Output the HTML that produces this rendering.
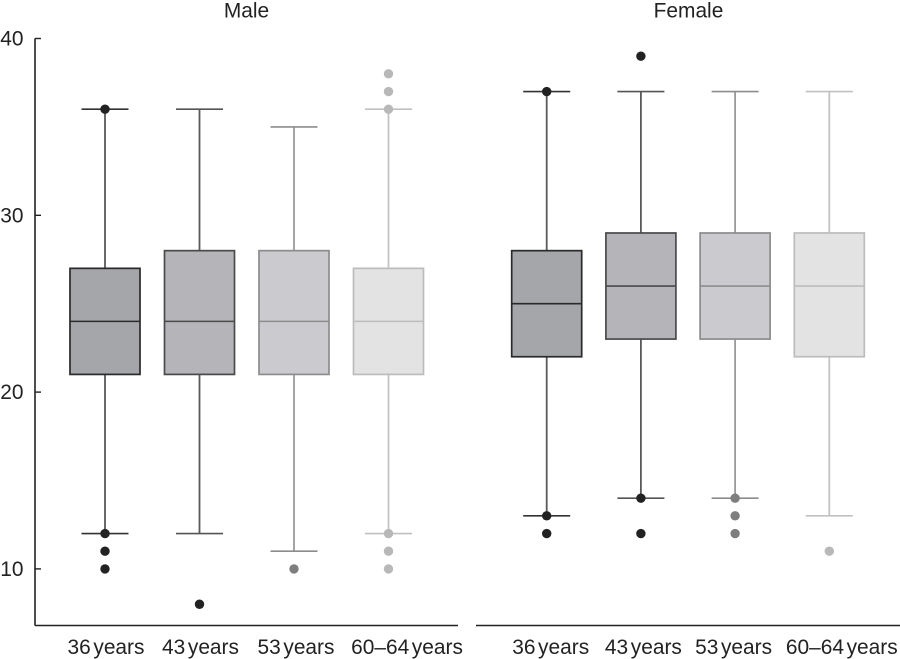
<!DOCTYPE html>
<html>
<head>
<meta charset="utf-8">
<style>
html,body{margin:0;padding:0;background:#fff;}
svg{display:block;}
text{font-family:"Liberation Sans",sans-serif;font-size:20.9px;fill:#222;}
</style>
</head>
<body>
<svg id="chart" width="900" height="659" viewBox="0 0 900 659" xmlns="http://www.w3.org/2000/svg"></svg>
<script>
const panels = ['Male', 'Female'];
const categories = ['36 years', '43 years', '53 years', '60–64 years'];
const yTicks = [10, 20, 30, 40];
// each row: [lower whisker, q1, median, q3, upper whisker]
const maleStats = [
  [12, 21, 24, 27, 36],
  [12, 21, 24, 28, 36],
  [11, 21, 24, 28, 35],
  [12, 21, 24, 27, 36]
];
const femaleStats = [
  [13, 22, 25, 28, 37],
  [14, 23, 26, 29, 37],
  [14, 23, 26, 29, 37],
  [13, 22, 26, 29, 37]
];
const maleOutliers = [
  [36, 12, 11, 10],
  [8],
  [10],
  [38, 37, 36, 12, 11, 10]
];
const femaleOutliers = [
  [37, 13, 12],
  [39, 14, 12],
  [14, 13, 12],
  [11]
];

const svg = document.getElementById('chart');
const NS = 'http://www.w3.org/2000/svg';
const y = v => 38.5 + (40 - v) * 17.68;
const panelX = [
  {axisStart: 35, axisEnd: 458, first: 105, step: 94.5, titleX: 246.5, labelShift: [1, 1, 2, 18.5]},
  {axisStart: 476, axisEnd: 900, first: 546.7, step: 94.2, titleX: 688.5, labelShift: [4, 2.5, -1.5, 12.5]}
];
const x = (p, i) => panelX[p].first + i * panelX[p].step;
const fills = ['#a4a6a9', '#b5b5b9', '#cbcbcf', '#e3e3e4'];
const edges = ['#2a2a2a', '#4a4a4a', '#8c8c8c', '#bcbcbc'];
const whisk = ['#5a5a5a', '#5a5a5a', '#9a9a9a', '#c4c4c4'];
const caps = ['#333333', '#555555', '#8c8c8c', '#c0c0c0'];
const dots = ['#222222', '#222222', '#7e7e7e', '#b8b8b8'];

function add(tag, attrs, name, text) {
  const el = document.createElementNS(NS, tag);
  for (const k in attrs) el.setAttribute(k, attrs[k]);
  
  
  if (text !== undefined) el.textContent = text;
  svg.appendChild(el);
  return el;
}
function line(x1, y1, x2, y2, stroke, w, name) {
  return add('line', {x1, y1, x2, y2, stroke, 'stroke-width': w}, name);
}

// y axis
line(35, y(40), 35, 625.5, '#222', 1.6, 'y-axis-line');
yTicks.forEach(t => {
  line(35, y(t), 41, y(t), '#222', 1.4, 'y-tick-' + t);
  add('text', {x: 23.5, y: y(t) + 7, 'text-anchor': 'end'}, 'y-tick-label-' + t, t);
});

// panels
[[maleStats, maleOutliers], [femaleStats, femaleOutliers]].forEach((pair, p) => {
  const pName = panels[p].toLowerCase();
  const stats = pair[0], outliers = pair[1];
  line(panelX[p].axisStart, 625.5, panelX[p].axisEnd, 625.5, '#222', 1.6, pName + '-x-axis-line');
  add('text', {x: panelX[p].titleX, y: 17.5, 'text-anchor': 'middle'}, pName + '-panel-title', panels[p]);
  categories.forEach((c, i) => {
    const cx = x(p, i);
    const s = stats[i];
    line(cx, y(s[0]), cx, y(s[4]), whisk[i], 1.8, pName + '-whisker-' + i);
    line(cx - 23.5, y(s[0]), cx + 23.5, y(s[0]), caps[i], 1.6, pName + '-lower-cap-' + i);
    line(cx - 23.5, y(s[4]), cx + 23.5, y(s[4]), caps[i], 1.6, pName + '-upper-cap-' + i);
    add('rect', {x: cx - 35, y: y(s[3]), width: 70, height: y(s[1]) - y(s[3]), fill: fills[i], stroke: edges[i], 'stroke-width': 1.7}, pName + '-box-' + i);
    line(cx - 35, y(s[2]), cx + 35, y(s[2]), edges[i], 1.6, pName + '-median-' + i);
    outliers[i].forEach((v, j) => {
      add('circle', {cx: cx, cy: y(v), r: 4.7, fill: dots[i]}, pName + '-outlier-' + i + '-' + j);
    });
    add('text', {x: cx + panelX[p].labelShift[i], y: 654, 'text-anchor': 'middle', 'word-spacing': '-3.2px'}, pName + '-x-label-' + i, c);
  });
});
</script>
</body>
</html>
